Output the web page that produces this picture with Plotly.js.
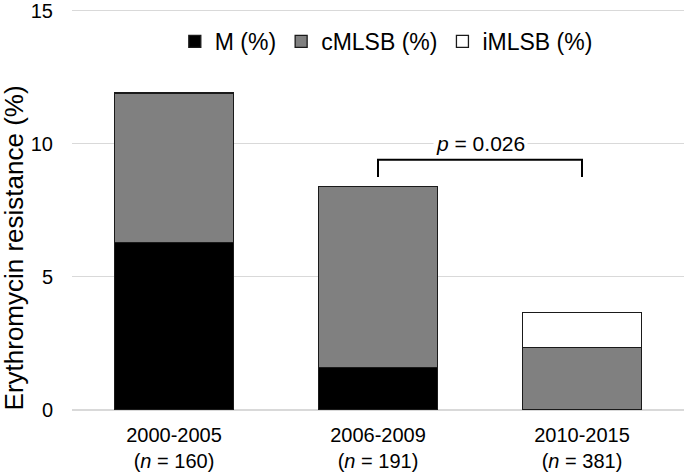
<!DOCTYPE html>
<html>
<head>
<meta charset="utf-8">
<script src="https://cdn.plot.ly/plotly-3.0.1.min.js"></script>
<style>html,body{margin:0;padding:0;background:#fff;}#chart{width:685px;height:474px;}</style>
</head>
<body>
<div id="chart"></div>
<script>
var categories = ["2000-2005<br>(<i>n</i> = 160)", "2006-2009<br>(<i>n</i> = 191)", "2010-2015<br>(<i>n</i> = 381)"];
var mValues = [6.3, 1.6, 0];
var cmlsbValues = [5.6, 6.8, 2.35];
var imlsbValues = [0, 0, 1.3];
var seriesNames = ["M (%)", "cMLSB (%)", "iMLSB (%)"];
var yTicks = [0, 5, 10, 15];
var yTitle = "Erythromycin resistance (%)";
var pText = "<i>p</i> = 0.026";
var bracketFrom = 1, bracketTo = 2, bracketTop = 9.4, bracketFoot = 8.75;

var lineStyle = {color: "#1a1a1a", width: 1.3};
var traces = [
  {type: "bar", name: seriesNames[0], x: categories, y: mValues, marker: {color: "#000000", line: lineStyle}},
  {type: "bar", name: seriesNames[1], x: categories, y: cmlsbValues, marker: {color: "#808080", line: lineStyle}},
  {type: "bar", name: seriesNames[2], x: categories, y: imlsbValues, marker: {color: "#ffffff", line: lineStyle}}
];

var layout = {
  width: 685, height: 474,
  margin: {l: 72, r: 1, t: 9, b: 64},
  paper_bgcolor: "#fff", plot_bgcolor: "#fff",
  barmode: "stack",
  bargap: 0.42,
  font: {family: "Liberation Sans, Arial, sans-serif", color: "#000", size: 21},
  showlegend: true,
  legend: {orientation: "h", x: 0.168, xanchor: "left", y: 0.919, yanchor: "middle",
    font: {size: 23}, traceorder: "normal", bgcolor: "rgba(0,0,0,0)", itemwidth: 30},
  xaxis: {type: "category", showline: false, showgrid: false, zeroline: false,
    tickfont: {size: 20}, ticks: "outside", ticklen: 7, tickcolor: "rgba(0,0,0,0)", automargin: false},
  yaxis: {range: [0, 15.06], tickvals: yTicks, ticktext: yTicks.map(String),
    showgrid: true, gridcolor: "#d9d9d9", gridwidth: 1.2, zeroline: true, zerolinecolor: "#d9d9d9", zerolinewidth: 1.2,
    showline: false, ticks: "outside", ticklen: 14, tickcolor: "rgba(0,0,0,0)",
    ticklabeloverflow: "allow",
    tickfont: {size: 20}, automargin: false},
  shapes: [{
    type: "path", xref: "x", yref: "y",
    path: "M " + bracketFrom + "," + bracketFoot + " L " + bracketFrom + "," + bracketTop + " L " + bracketTo + "," + bracketTop + " L " + bracketTo + "," + bracketFoot,
    line: {color: "#000", width: 2}
  }],
  annotations: [{
    xref: "x", yref: "y", x: (bracketFrom + bracketTo) / 2, y: 10, text: pText,
    showarrow: false, bgcolor: "#fff", font: {size: 21}, borderpad: 2
  }, {
    xref: "paper", yref: "paper", x: -0.095, y: 0.405, text: yTitle, textangle: -90,
    showarrow: false, font: {size: 26}, xanchor: "center", yanchor: "middle"
  }]
};

Plotly.newPlot("chart", traces, layout, {staticPlot: true});
</script>
</body>
</html>
